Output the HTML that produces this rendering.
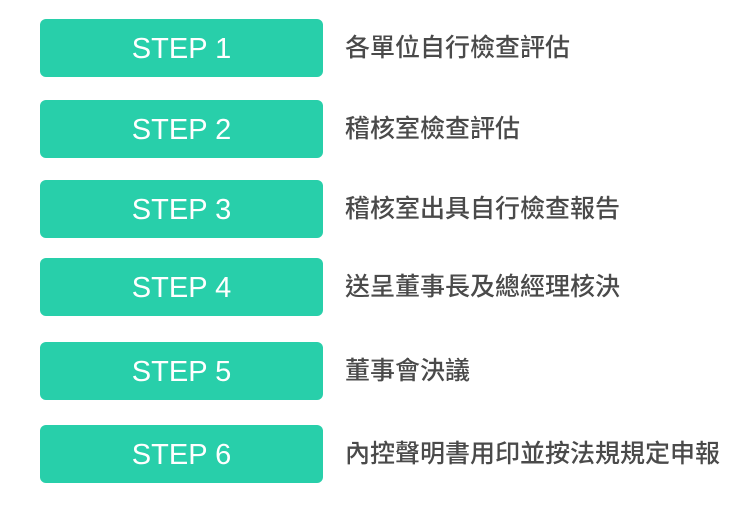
<!DOCTYPE html>
<html><head><meta charset="utf-8"><style>
body{margin:0;width:746px;height:507px;background:#fff;position:relative;overflow:hidden}
.b{position:absolute;left:40px;width:283px;height:58px;background:#28cfaa;border-radius:6px;color:#fff;font:29px "Liberation Sans",sans-serif;display:flex;align-items:center;justify-content:center;box-sizing:border-box;padding-top:2px}
.t{position:absolute;left:345px;font:500 25px "Liberation Sans","Noto Sans CJK TC",sans-serif;color:#4a4a4a;line-height:58px;height:58px;white-space:nowrap}
</style></head><body>
<div class="b" style="top:19px">STEP 1</div><div class="t" style="top:19px">各單位自行檢查評估</div>
<div class="b" style="top:100px">STEP 2</div><div class="t" style="top:100px">稽核室檢查評估</div>
<div class="b" style="top:180px">STEP 3</div><div class="t" style="top:180px">稽核室出具自行檢查報告</div>
<div class="b" style="top:258px">STEP 4</div><div class="t" style="top:258px">送呈董事長及總經理核決</div>
<div class="b" style="top:342px">STEP 5</div><div class="t" style="top:342px">董事會決議</div>
<div class="b" style="top:425px">STEP 6</div><div class="t" style="top:425px">內控聲明書用印並按法規規定申報</div>
</body></html>
